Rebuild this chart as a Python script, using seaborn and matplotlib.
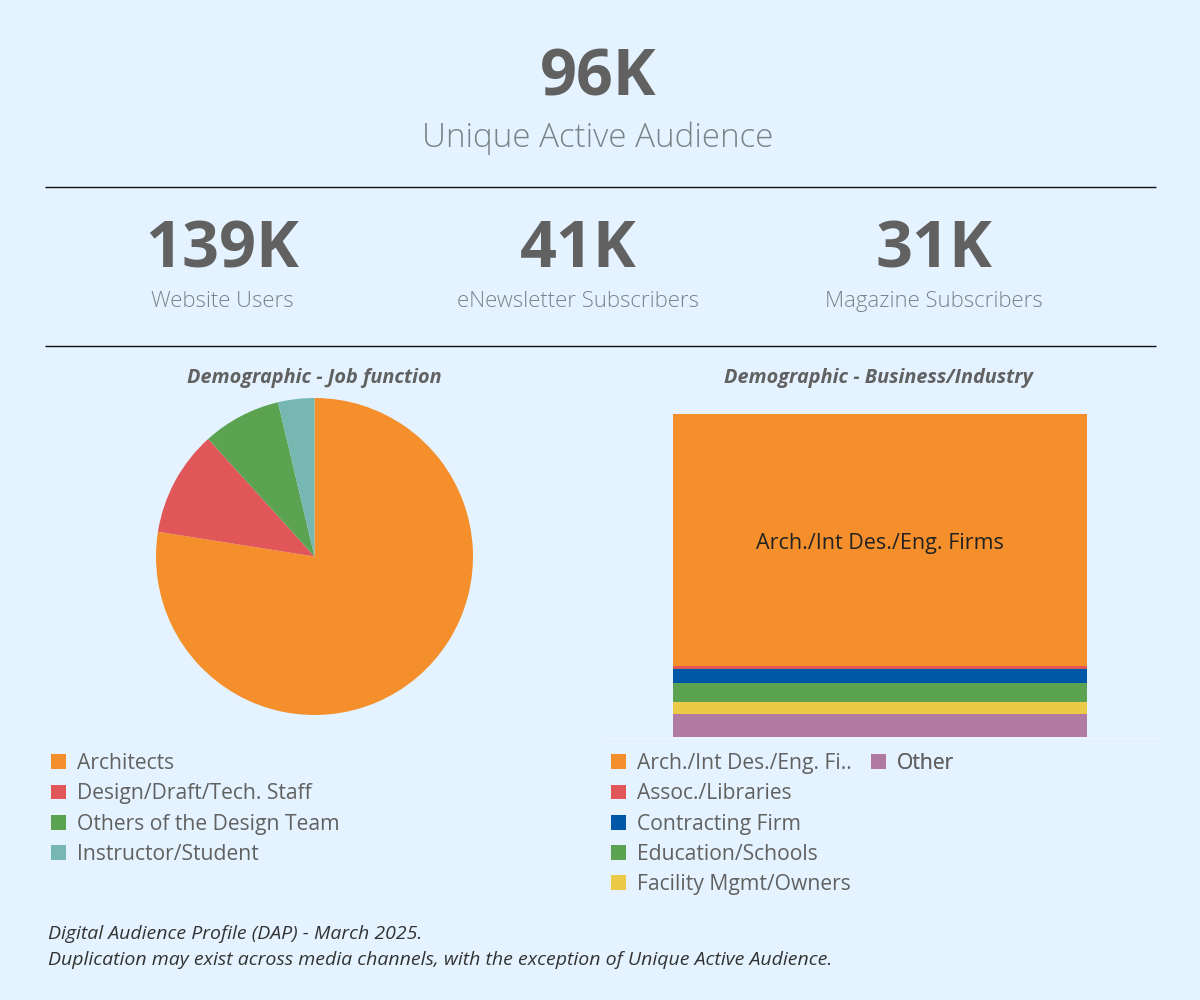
import matplotlib
matplotlib.use("Agg")
import matplotlib.pyplot as plt
from matplotlib.patches import Patch
import pandas as pd
import seaborn as sns

BG = "#E4F3FF"
GREY = "#616161"
LIGHT = "#7C8388"

# KPIs
headline_value = "96K"
headline_label = "Unique Active Audience"
kpi_values = ["139K", "41K", "31K"]
kpi_labels = ["Website Users", "eNewsletter Subscribers", "Magazine Subscribers"]

# Job function pie
job_labels = ["Architects", "Design/Draft/Tech. Staff", "Others of the Design Team", "Instructor/Student"]
job_shares = [77.5, 10.8, 8.0, 3.7]
job_colors = ["#F58F2C", "#E15759", "#5BA251", "#76B7B2"]

# Business/Industry stack
industry_labels = ["Arch./Int Des./Eng. Firms", "Assoc./Libraries", "Contracting Firm",
                   "Education/Schools", "Facility Mgmt/Owners", "Other"]
industry_shares = [78.0, 0.9, 4.3, 5.9, 3.7, 7.1]
industry_colors = ["#F58F2C", "#E15759", "#0057A8", "#5BA251", "#EDC948", "#B07AA1"]

notes = ["Digital Audience Profile (DAP) - March 2025.",
         "Duplication may exist across media channels, with the exception of Unique Active Audience."]

sns.set_theme(style="white")
plt.rcParams["font.family"] = ["Open Sans", "DejaVu Sans"]

W, H = 1200, 1000
fig = plt.figure(figsize=(W / 100, H / 100), dpi=100, facecolor=BG)


def px_axes(left, top, right, bottom):
    return fig.add_axes([left / W, 1 - bottom / H, (right - left) / W, (bottom - top) / H])


# overlay in pixel coords for text and rules
ov = fig.add_axes([0, 0, 1, 1], facecolor="none")
ov.set_xlim(0, W)
ov.set_ylim(H, 0)
ov.axis("off")

ov.text(598, 95, headline_value, ha="center", va="baseline", fontsize=46.5, fontweight="bold", color=GREY)
ov.text(598, 147, headline_label, ha="center", va="baseline", fontsize=23.9, fontweight="light", color=LIGHT)

for y in [187, 346]:
    ov.plot([45, 1156], [y, y], color="#111111", lw=1, solid_capstyle="butt")
ov.plot([604, 1160], [737.5, 737.5], color="#EEF7FE", lw=1, solid_capstyle="butt")

for x, val, lab in zip([222, 578, 934], kpi_values, kpi_labels):
    ov.text(x, 267, val, ha="center", va="baseline", fontsize=46.5, fontweight="bold", color=GREY)
    ov.text(x, 307, lab, ha="center", va="baseline", fontsize=15.9, fontweight="light", color=LIGHT)

ov.text(314, 378, "Demographic - Job function", ha="center", va="center", fontsize=14.3,
        fontweight="bold", style="italic", color=GREY)
ov.text(879, 378, "Demographic - Business/Industry", ha="center", va="center", fontsize=14.3,
        fontweight="bold", style="italic", color=GREY)

# pie
r = 158.5
ax_pie = px_axes(314.5 - r, 556.5 - r, 314.5 + r, 556.5 + r)
ax_pie.pie(job_shares, colors=job_colors, startangle=90, counterclock=False, radius=1,
           wedgeprops={"linewidth": 0})
ax_pie.set_xlim(-1, 1)
ax_pie.set_ylim(-1, 1)

# stacked block
df = pd.DataFrame({"x": [0] * len(industry_labels), "industry": industry_labels, "share": industry_shares})
ax_bar = px_axes(673, 414, 1087, 737)
sns.histplot(data=df, x="x", weights="share", hue="industry", hue_order=industry_labels,
             palette=industry_colors, multiple="stack", discrete=True, shrink=1, alpha=1,
             linewidth=0, legend=False, ax=ax_bar)
ax_bar.set_xlim(-0.5, 0.5)
ax_bar.set_ylim(0, sum(industry_shares))
ax_bar.axis("off")
ov.text(880, 543, industry_labels[0], ha="center", va="center", fontsize=15.5, color="#222222", zorder=5)
ov.set_zorder(5)


def add_legend(labels, colors, x, y):
    handles = [Patch(facecolor=c, edgecolor="none", label=l) for l, c in zip(labels, colors)]
    leg = ov.legend(handles=handles, loc="upper left", bbox_to_anchor=(x, y), bbox_transform=ov.transData,
                    frameon=False, fontsize=15.2, handlelength=0.69, handleheight=0.69, handletextpad=0.52,
                    labelspacing=0.44, borderpad=0, borderaxespad=0, labelcolor=GREY)
    ov.add_artist(leg)


add_legend(job_labels, job_colors, 51, 753)
add_legend(["Arch./Int Des./Eng. Fi.."] + industry_labels[1:5], industry_colors[:5], 611, 753)
add_legend(industry_labels[5:], industry_colors[5:], 871, 753)

for y, line in zip([934, 960], notes):
    ov.text(48, y, line, ha="left", va="center", fontsize=14, style="italic", color="#333333")

fig.savefig("out.png", dpi=100, facecolor=BG)
